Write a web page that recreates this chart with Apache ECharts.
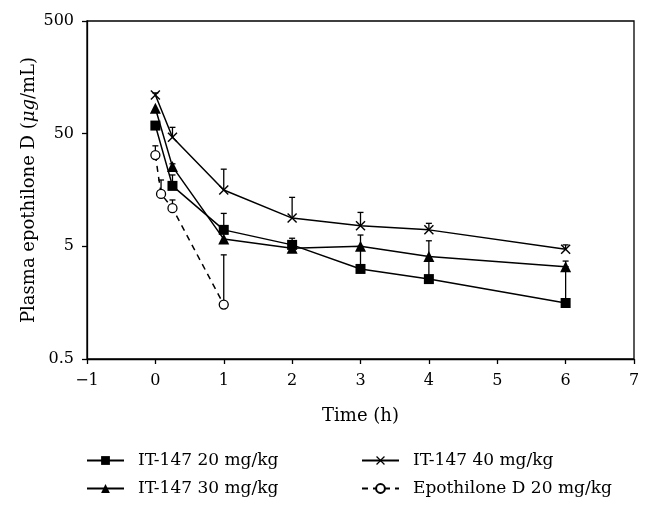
<!DOCTYPE html>
<html><head><meta charset="utf-8">
<script src="https://cdn.jsdelivr.net/npm/echarts@6/dist/echarts.min.js"></script>
<style>html,body{margin:0;padding:0;background:#fff}#c{width:654px;height:512px}</style>
</head><body><div id="c"></div>
<script>
// Data (time in h, concentration in µg/mL)
const names = ['IT-147 20 mg/kg','IT-147 30 mg/kg','IT-147 40 mg/kg','Epothilone D 20 mg/kg'];
const t20 = [0, 0.25, 1, 2, 3, 4, 6];
const v20 = [59, 17.2, 7.0, 5.15, 3.15, 2.56, 1.57];
const e20 = [59, 21.5, 9.8, 5.9, 5.0, 4.0, 3.3];
const t30 = [0, 0.25, 1, 2, 3, 4, 6];
const v30 = [84, 25.5, 5.8, 4.8, 5.0, 4.07, 3.3];
const e30 = [84, 27, 5.8, 5.3, 6.3, 5.6, 3.7];
const t40 = [0, 0.25, 1, 2, 3, 4, 6];
const v40 = [110, 46.4, 15.8, 8.9, 7.6, 7.0, 4.7];
const e40 = [115, 56.9, 24.2, 13.6, 10.0, 8.0, 5.15];
const tEpo = [0, 0.083, 0.25, 1];
const vEpo = [32.3, 14.6, 10.9, 1.52];
const eEpo = [39, 19.4, 12.9, 4.2];
const xTicks = [-1, 0, 1, 2, 3, 4, 5, 6, 7];
const yTicks = [0.5, 5, 50, 500];

const FONT = '"DejaVu Serif", "Liberation Serif", serif';
const pts = (t, v) => t.map((x, i) => [x, v[i]]);
const errPts = (t, v, e) => t.map((x, i) => [x, v[i], e[i]]);
const crossPath = 'path://M0,1L1,0L5,4L9,0L10,1L6,5L10,9L9,10L5,6L1,10L0,9L4,5Z';

function errSeries(t, v, e) {
  return {
    type: 'custom', silent: true, z: 1,
    data: errPts(t, v, e),
    renderItem: function (params, api) {
      const p0 = api.coord([api.value(0), api.value(1)]);
      const p1 = api.coord([api.value(0), api.value(2)]);
      if (Math.abs(p0[1] - p1[1]) < 1) return null;
      const st = {stroke: '#000', lineWidth: 1.3};
      return {type: 'group', children: [
        {type: 'line', shape: {x1: p0[0], y1: p0[1], x2: p1[0], y2: p1[1]}, style: st},
        {type: 'line', shape: {x1: p1[0] - 3, y1: p1[1], x2: p1[0] + 3, y2: p1[1]}, style: st}
      ]};
    }
  };
}

const chart = echarts.init(document.getElementById('c'), null, {renderer: 'canvas'});
const lineStyle = {color: '#000', width: 1.5};
const legendText = {fontFamily: FONT, fontSize: 17, color: '#000', padding: [0, 0, 0, 9]};
chart.setOption({
  animation: false,
  backgroundColor: '#fff',
  textStyle: {fontFamily: FONT},
  grid: {left: 87, right: 20, top: 21, bottom: 153, show: true, borderColor: '#000', borderWidth: 1.3},
  xAxis: {
    type: 'value', min: xTicks[0], max: xTicks[xTicks.length - 1], interval: 1,
    name: 'Time (h)', nameLocation: 'middle', nameGap: 48, nameMoveOverlap: false,
    nameTextStyle: {fontFamily: FONT, fontSize: 18, color: '#000'},
    axisLine: {onZero: false, lineStyle: {color: '#000', width: 1.3}},
    axisTick: {show: true, length: 5, lineStyle: {color: '#000', width: 1.3}},
    axisLabel: {fontFamily: FONT, fontSize: 16, color: '#000', margin: 14,
      formatter: v => String(v).replace('-', '\u2212')},
    splitLine: {show: false}
  },
  yAxis: {
    type: 'log', logBase: 10, min: yTicks[0], max: yTicks[yTicks.length - 1], interval: 1,
    name: '{n|Plasma epothilone D (}{i|\u03bcg}{n|/mL)}', nameLocation: 'middle', nameGap: 49,
    nameMoveOverlap: false,
    nameTextStyle: {rich: {
      n: {fontFamily: FONT, fontSize: 18, color: '#000'},
      i: {fontFamily: FONT, fontSize: 18, color: '#000', fontStyle: 'italic'}
    }},
    axisLine: {show: true, onZero: false, lineStyle: {color: '#000', width: 1.3}},
    axisTick: {show: true, length: 5, lineStyle: {color: '#000', width: 1.3}},
    axisLabel: {fontFamily: FONT, fontSize: 16, color: '#000', margin: 13,
      formatter: v => String(Number(Number(v).toPrecision(1)))},
    splitLine: {show: false},
    minorTick: {show: false}
  },
  legend: [
    {data: [names[0], names[1]], orient: 'vertical', left: 86, top: 452, itemGap: 11, padding: 0,
     itemWidth: 37, itemHeight: 11, textStyle: legendText},
    {data: [names[2], names[3]], orient: 'vertical', left: 361, top: 452, itemGap: 11, padding: 0,
     itemWidth: 37, itemHeight: 11, textStyle: legendText}
  ],
  series: [
    errSeries(t20, v20, e20),
    errSeries(t30, v30, e30),
    errSeries(t40, v40, e40),
    errSeries(tEpo, vEpo, eEpo),
    {name: names[0], type: 'line', data: pts(t20, v20), symbol: 'rect', symbolSize: 10,
     itemStyle: {color: '#000'}, lineStyle: lineStyle, z: 3},
    {name: names[1], type: 'line', data: pts(t30, v30), symbol: 'triangle', symbolSize: 11,
     itemStyle: {color: '#000'}, lineStyle: lineStyle, z: 3},
    {name: names[2], type: 'line', data: pts(t40, v40), symbol: crossPath, symbolSize: 10,
     itemStyle: {color: '#000'}, lineStyle: lineStyle, z: 3},
    {name: names[3], type: 'line', data: pts(tEpo, vEpo), symbol: 'circle', symbolSize: 9,
     itemStyle: {color: '#fff', borderColor: '#000', borderWidth: 1.3},
     lineStyle: {color: '#000', width: 1.5, type: [6, 5]}, z: 3}
  ]
});
</script>
</body></html>
